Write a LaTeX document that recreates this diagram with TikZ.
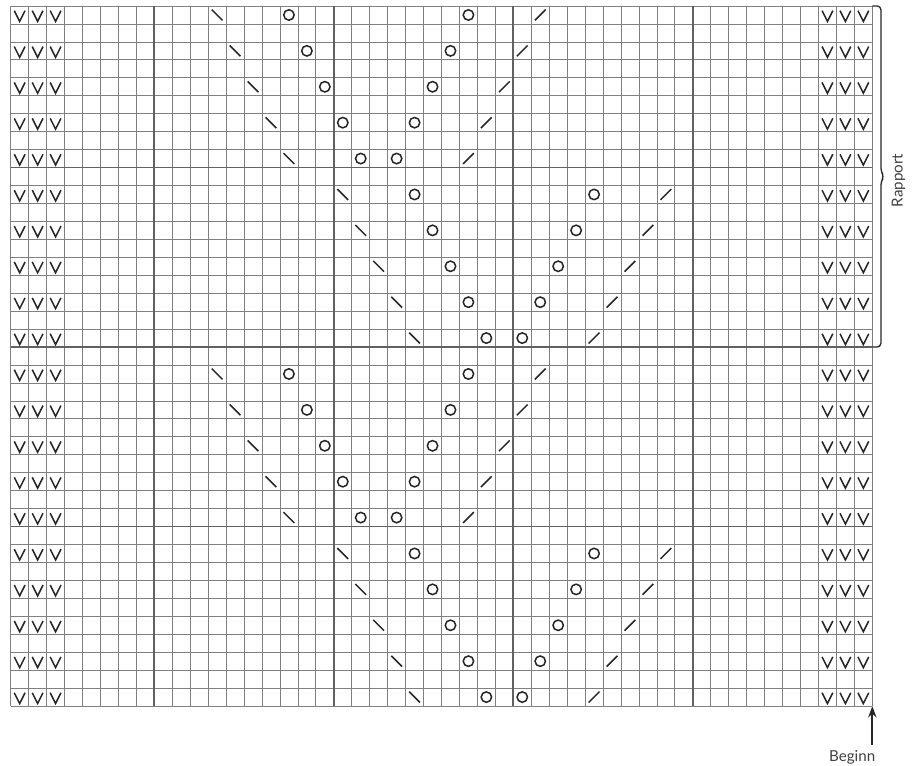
\documentclass[tikz,border=0pt]{standalone}
\usepackage{fontspec}
\setmainfont{Lato}
\usepackage{tikz}
\usetikzlibrary{positioning, arrows.meta, calc}

\begin{document}
\begin{tikzpicture}[
        x=0.5cm, y=0.5cm,
        fine/.style={draw=black!50, line width=0.6pt},
        bold/.style={draw=black!62, line width=1.5pt},
        sym/.style={draw=black!85, line width=1.2pt},
        lbl/.style={font=\fontsize{12}{14}\selectfont, text=black!75, inner sep=1pt},
        arr/.style={-{Stealth[length=9pt,width=6.5pt]}, line width=1.5pt, black!85}
    ]
    \useasboundingbox (-0.596,-3.29) rectangle (50.49,39.334);
    \draw[fine, step=0.5cm] (0,0) grid (48,39);
    \foreach \x in {8,18,28,38} \draw[bold] (\x,0) -- (\x,39);
    \foreach \y in {10,20,30} \draw[bold] (0,\y) -- (48,\y);

    \foreach \y in {0,2,...,38}
        \foreach \x in {0,1,2,45,46,47}
            \draw[sym] (\x+0.2,\y+0.74) -- (\x+0.5,\y+0.14) -- (\x+0.8,\y+0.74);

    \foreach \rowtop/\col in {8/18, 28/18, 18/11, 38/11}
        \foreach \k in {0,...,4} {
            \pgfmathtruncatemacro\y{\rowtop-2*\k}
            \draw[sym] (\col+\k+0.2,\y+0.8) -- ++(0.6,-0.6);
            \draw[sym] (\col+4+\k+0.5,\y+0.5) circle[radius=0.29];
            \draw[sym] (\col+14-\k+0.5,\y+0.5) circle[radius=0.29];
            \draw[sym] (\col+18-\k+0.2,\y+0.2) -- ++(0.6,0.6);
        }

    \draw[sym, line width=1pt, rounded corners=3pt] (48,39) -- (48.48,39) -- (48.48,29.78)
        -- (48.66,29.5) -- (48.48,29.22) -- (48.48,20) -- (48,20);
    \node[lbl, rotate=90, anchor=base] (rapport) at (49.69,29.27) {Rapport};

    \coordinate (start) at (48,0);
    \node[lbl, anchor=base] (beginn) at (46.88,-3.1) {Beginn};
    \draw[arr] ($(beginn.north -| start)+(0,0.25)$) -- (start);
\end{tikzpicture}
\end{document}
